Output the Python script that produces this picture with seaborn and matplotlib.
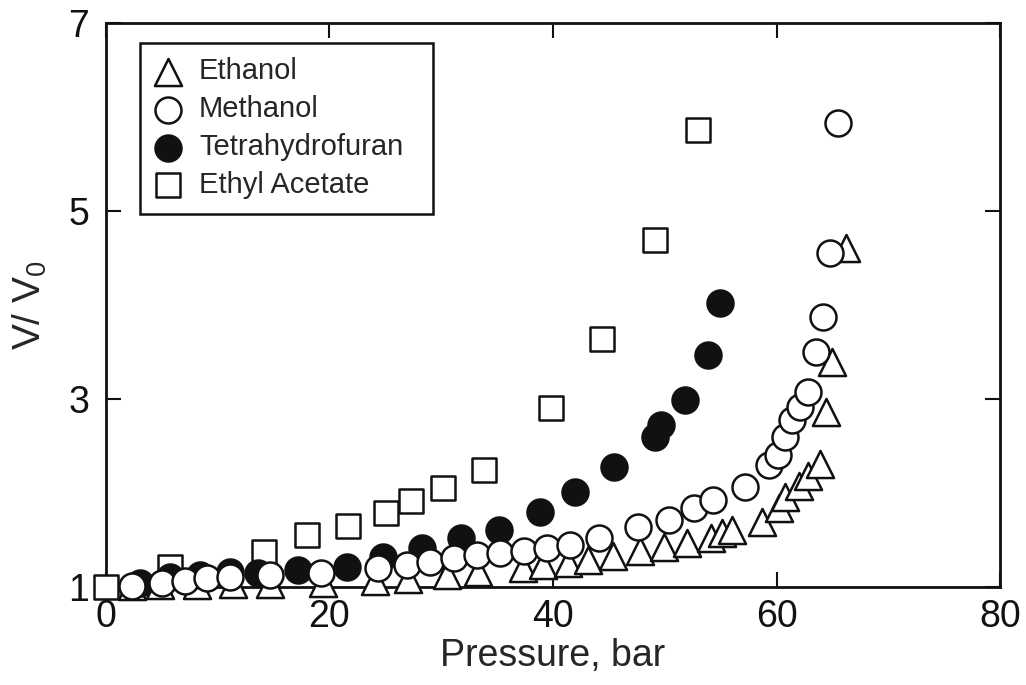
import matplotlib
matplotlib.use("Agg")
import matplotlib.pyplot as plt
import pandas as pd
import seaborn as sns

# Ethanol (open triangles)
eth_p = [2.3, 4.8, 8.1, 11.4, 14.7, 19.4, 24.1, 27.0, 30.5, 33.3, 37.3, 39.1, 41.3,
         43.1, 45.4, 47.8, 49.9, 52.0, 54.1, 55.1, 56.0, 58.7, 60.2, 60.8, 62.0,
         62.8, 63.9, 64.4, 65.0, 66.2]
eth_v = [1.01, 1.02, 1.02, 1.03, 1.03, 1.04, 1.06, 1.08, 1.13, 1.16, 1.20, 1.23, 1.26,
         1.29, 1.33, 1.38, 1.42, 1.47, 1.52, 1.57, 1.61, 1.69, 1.84, 1.96, 2.07,
         2.18, 2.31, 2.86, 3.39, 4.61]

# Methanol (open circles)
met_p = [2.3, 5.0, 7.1, 9.0, 11.1, 14.7, 19.2, 24.3, 26.9, 29.0, 31.1, 33.2, 35.3,
         37.4, 39.5, 41.5, 44.1, 47.6, 50.4, 52.6, 54.3, 57.2, 59.3, 60.1, 60.8,
         61.4, 62.1, 62.8, 63.5, 64.2, 64.8, 65.5]
met_v = [1.01, 1.04, 1.06, 1.10, 1.11, 1.13, 1.15, 1.20, 1.23, 1.27, 1.31, 1.34, 1.36,
         1.38, 1.41, 1.45, 1.52, 1.64, 1.71, 1.84, 1.93, 2.06, 2.30, 2.40, 2.60,
         2.78, 2.91, 3.07, 3.50, 3.87, 4.55, 5.94]

# Tetrahydrofuran (filled circles)
thf_p = [3.0, 5.7, 8.4, 11.1, 13.6, 17.2, 21.6, 24.8, 28.3, 31.8, 35.2, 38.8, 42.0,
         45.5, 49.1, 49.7, 51.8, 53.9, 54.9]
thf_v = [1.04, 1.11, 1.13, 1.16, 1.15, 1.18, 1.21, 1.32, 1.41, 1.52, 1.61, 1.80, 2.01,
         2.28, 2.60, 2.72, 2.99, 3.47, 4.02]

# Ethyl acetate (open squares)
ea_p = [0.0, 5.7, 14.1, 18.0, 21.7, 25.1, 27.3, 30.2, 33.8, 39.8, 44.4, 49.1, 53.0]
ea_v = [1.00, 1.21, 1.37, 1.55, 1.65, 1.79, 1.91, 2.05, 2.24, 2.90, 3.64, 4.69, 5.86]

x_ticks = [0, 20, 40, 60, 80]
y_ticks = [1, 3, 5, 7]

sns.set_theme(style="ticks")
plt.rcParams["font.family"] = ["Liberation Sans", "DejaVu Sans"]
plt.rcParams["mathtext.fontset"] = "custom"
plt.rcParams["mathtext.rm"] = "Liberation Sans"
plt.rcParams["mathtext.it"] = "Liberation Sans"

fig = plt.figure(figsize=(10.26, 6.85), dpi=100)
ax = fig.add_axes([0.1033, 0.1431, 0.8714, 0.8233])

series = [
    ("Ethyl Acetate", ea_p, ea_v, "s", "white", 300),
    ("Ethanol", eth_p, eth_v, "^", "white", 380),
    ("Tetrahydrofuran", thf_p, thf_v, "o", "#111111", 350),
    ("Methanol", met_p, met_v, "o", "white", 350),
]
for z, (name, p, v, mk, fc, size) in enumerate(series):
    df = pd.DataFrame({"p": p, "v": v})
    sns.scatterplot(data=df, x="p", y="v", ax=ax, marker=mk, s=size,
                    color=fc, edgecolor="#111111", linewidth=1.8,
                    label=name, zorder=3 + z, clip_on=False)

ax.set_xlim(0, 80)
ax.set_ylim(1, 7)
ax.set_xticks(x_ticks)
ax.set_yticks(y_ticks)
ax.tick_params(direction="in", top=True, right=True, length=11, width=1.5,
               labelsize=27, colors="#111111")
ax.tick_params(axis="y", pad=12)
ax.tick_params(axis="x", pad=9)
for sp in ax.spines.values():
    sp.set_linewidth(2.0)
    sp.set_color("#111111")

ax.set_xlabel("Pressure, bar", fontsize=27, labelpad=2)
ax.set_ylabel(r"V/ V$_0$", fontsize=28, labelpad=14)

handles, labels = ax.get_legend_handles_labels()
order = ["Ethanol", "Methanol", "Tetrahydrofuran", "Ethyl Acetate"]
hmap = dict(zip(labels, handles))
leg = ax.legend([hmap[k] for k in order], order, loc="upper left",
                bbox_to_anchor=(0.038, 0.665, 0.328, 0.3), mode="expand",
                borderaxespad=0, fontsize=21,
                frameon=True, fancybox=False, framealpha=1, edgecolor="#111111",
                handlelength=0.92, handletextpad=0.6, labelspacing=0.34,
                borderpad=0.5)
leg.get_frame().set_linewidth(1.8)

fig.savefig("out.png", dpi=100)
